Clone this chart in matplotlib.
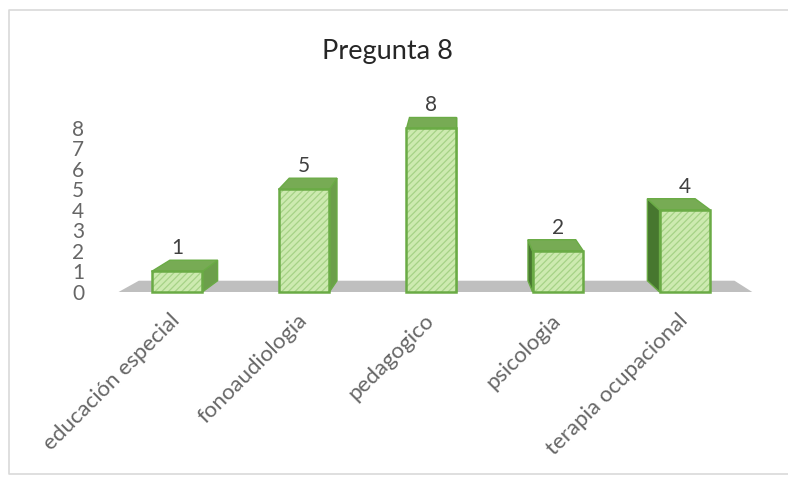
import matplotlib
matplotlib.use("Agg")
import matplotlib.pyplot as plt
from matplotlib.patches import Polygon
from matplotlib.lines import Line2D

plt.rcParams['font.family'] = ['Lato', 'DejaVu Sans']
plt.rcParams['hatch.linewidth'] = 0.9

# data
categories = ["educación especial", "fonoaudiologia", "pedagogico", "psicologia", "terapia ocupacional"]
values = [1, 5, 8, 2, 4]
title = "Pregunta 8"
yticks = [0, 1, 2, 3, 4, 5, 6, 7, 8]

# look of the fake 3D
bar_w = 0.4
depth = 0.55          # depth of the boxes, in value units
vanish_x = 2.2        # perspective: back faces lean towards this x
lean = 0.06
front_col = "#cdeab0"
hatch_col = "#a6d286"
edge_col = "#6aab45"
top_col = "#77ab54"
right_col = "#6c9f4b"
left_col = "#47772f"
floor_col = "#bfbfbf"
text_col = "#666666"

fig = plt.figure(figsize=(7.88, 4.78), dpi=100)
ax = fig.add_axes([0.1279, 0.3677, 0.838, 0.4289])
ax.set_xlim(-0.6, 4.6)
ax.set_ylim(-0.5, 9.5)
for s in ax.spines.values():
    s.set_visible(False)

# outer chart frame (open on the right, like the cropped screenshot)
fl, ft, fb = 9 / 788, 1 - 10 / 478, 1 - 474 / 478
fig.lines.append(Line2D([1.0, fl, fl, 1.0], [ft, ft, fb, fb], transform=fig.transFigure,
                        color="#d9d9d9", linewidth=1.2))


def back(x):
    return x + (vanish_x - x) * lean


# floor
x0 = -0.5 + 0.04
x1 = len(values) - 0.5 + 0.03
ax.add_patch(Polygon([(x0, 0), (x1, 0), (back(x1), depth), (back(x0), depth)],
                     closed=True, facecolor=floor_col, edgecolor="none", zorder=1))

xs = list(range(len(values)))
for x, h in zip(xs, values):
    l, r = x - bar_w / 2, x + bar_w / 2
    if back(x) > x:
        side = [(r, 0), (r, h), (back(r), h + depth), (back(r), depth)]
        sc = right_col
    else:
        side = [(l, 0), (l, h), (back(l), h + depth), (back(l), depth)]
        sc = left_col
    ax.add_patch(Polygon(side, closed=True, facecolor=sc, edgecolor=edge_col,
                         linewidth=1.0, zorder=2))
    top = [(l, h), (r, h), (back(r), h + depth), (back(l), h + depth)]
    ax.add_patch(Polygon(top, closed=True, facecolor=top_col, edgecolor=edge_col,
                         linewidth=1.0, zorder=2))
    ax.annotate(str(h), (x, h + depth), xytext=(0, 1.5), textcoords="offset points",
                ha="center", va="bottom", fontsize=15, color="#404040", zorder=5)

ax.bar(xs, values, width=bar_w, color=front_col, edgecolor=hatch_col, hatch="/////",
       linewidth=0, zorder=3)
ax.bar(xs, values, width=bar_w, color="none", edgecolor=edge_col, linewidth=1.8, zorder=4)

ax.set_yticks(yticks)
ax.set_yticklabels([str(v) for v in yticks], fontsize=15, color=text_col)
ax.tick_params(axis="y", length=0, pad=12)
ax.set_xticks(xs)
ax.set_xticklabels(categories, rotation=45, ha="right", va="center",
                   rotation_mode="anchor", fontsize=16, color=text_col)
ax.tick_params(axis="x", length=0, pad=11)

fig.text(387 / 788, 1 - 52 / 478, title, ha="center", va="center",
         fontsize=19.5, color="#262626")

fig.savefig("out.png", dpi=100)
